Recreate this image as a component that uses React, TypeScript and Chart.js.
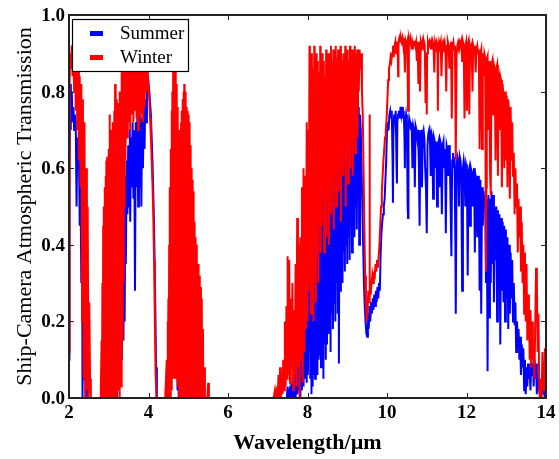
import React, { useEffect, useRef } from "react";
import { Chart, registerables } from "chart.js";
Chart.register(...registerables);

type P = [number, number];

const xTicks = [2, 4, 6, 8, 10, 12, 14];
const yTicks = [0, 0.2, 0.4, 0.6, 0.8, 1.0];
const seriesNames = ["Summer", "Winter"];
const seriesColors = ["#0000ff", "#ff0000"];
const xTitle = "Wavelength/\u00b5m";
const yTitle = "Ship-Camera Atmospheric Transmission";

// ---- Winter (wavelength µm, transmission) ----
const winterBand1: P[] = [
  [2.00,0.12],[2.01,0.5],[2.02,0.82],[2.03,0.9],[2.05,0.86],[2.07,0.92],[2.09,0.84],[2.11,0.9],[2.13,0.8],[2.15,0.9],
  [2.17,0.75],[2.19,0.88],[2.21,0.7],[2.23,0.86],[2.25,0.62],[2.27,0.84],[2.29,0.55],[2.31,0.82],[2.33,0.2],[2.35,0.78],
  [2.37,0.05],[2.39,0.72],[2.41,0.0],[2.43,0.6],[2.45,0.02],[2.47,0.5],[2.49,0.0],[2.51,0.25],[2.53,0.05],[2.55,0.0],[2.78,0.0],
];
const winterBand2: P[] = [
  [2.80,0.02],[2.82,0.15],[2.83,0.0],[2.84,0.3],[2.85,0.02],[2.86,0.45],[2.87,0.0],[2.88,0.5],[2.89,0.05],[2.90,0.55],
  [2.91,0.0],[2.92,0.58],[2.93,0.03],[2.94,0.62],[2.95,0.0],[2.96,0.63],[2.97,0.02],[2.98,0.6],[2.99,0.0],[3.00,0.65],
  [3.01,0.04],[3.02,0.74],[3.03,0.0],[3.04,0.66],[3.05,0.02],[3.06,0.7],[3.07,0.0],[3.08,0.68],[3.09,0.03],[3.10,0.72],
  [3.11,0.0],[3.12,0.7],[3.13,0.02],[3.14,0.75],[3.15,0.0],[3.16,0.82],[3.17,0.05],[3.18,0.76],[3.19,0.0],[3.20,0.78],
  [3.21,0.04],[3.22,0.74],[3.23,0.02],[3.24,0.77],[3.25,0.06],[3.26,0.75],[3.27,0.0],[3.28,0.8],[3.29,0.08],[3.30,0.78],
  [3.31,0.03],[3.32,0.85],[3.33,0.1],[3.34,0.86],[3.35,0.15],[3.36,0.9],[3.37,0.3],[3.38,0.9],[3.39,0.5],[3.40,0.92],
  [3.42,0.62],[3.44,0.93],[3.46,0.68],[3.48,0.92],[3.50,0.72],[3.52,0.94],[3.54,0.7],[3.56,0.93],[3.58,0.74],[3.60,0.95],
  [3.62,0.72],[3.64,0.93],[3.66,0.75],[3.68,0.94],[3.70,0.73],[3.72,0.92],[3.74,0.7],[3.76,0.93],[3.78,0.72],[3.80,0.92],
  [3.82,0.74],[3.84,0.9],[3.86,0.72],[3.88,0.9],[3.90,0.76],[3.92,0.88],[3.94,0.8],[3.96,0.87],[3.98,0.85],[4.00,0.82],
  [4.02,0.78],[4.04,0.73],[4.06,0.68],[4.08,0.62],[4.10,0.56],[4.12,0.48],[4.14,0.36],[4.16,0.2],[4.18,0.06],[4.20,0.0],[4.42,0.0],
];
const winterBand3: P[] = [
  [4.44,0.0],[4.46,0.1],[4.47,0.0],[4.48,0.2],[4.49,0.02],[4.50,0.26],[4.51,0.0],[4.52,0.4],[4.53,0.05],[4.54,0.55],
  [4.55,0.0],[4.56,0.65],[4.57,0.08],[4.58,0.75],[4.59,0.02],[4.60,0.8],[4.61,0.1],[4.62,0.86],[4.63,0.05],[4.64,0.9],
  [4.65,0.15],[4.66,0.93],[4.67,0.1],[4.68,0.9],[4.69,0.05],[4.70,0.82],[4.71,0.1],[4.72,0.76],[4.73,0.03],[4.74,0.72],
  [4.75,0.08],[4.76,0.7],[4.77,0.0],[4.78,0.68],[4.79,0.06],[4.80,0.7],[4.81,0.0],[4.82,0.72],[4.83,0.04],[4.84,0.75],
  [4.85,0.0],[4.86,0.78],[4.87,0.05],[4.88,0.8],[4.89,0.0],[4.90,0.82],[4.91,0.03],[4.92,0.8],[4.93,0.0],[4.94,0.78],
  [4.95,0.02],[4.96,0.76],[4.97,0.0],[4.98,0.75],[4.99,0.03],[5.00,0.74],[5.01,0.0],[5.02,0.72],[5.03,0.02],[5.04,0.7],
  [5.05,0.0],[5.06,0.66],[5.07,0.01],[5.08,0.6],[5.09,0.0],[5.10,0.57],[5.11,0.02],[5.12,0.54],[5.13,0.0],[5.14,0.5],
  [5.15,0.0],[5.16,0.46],[5.17,0.01],[5.18,0.42],[5.19,0.0],[5.20,0.4],[5.21,0.0],[5.22,0.36],[5.23,0.0],[5.25,0.35],
  [5.26,0.0],[5.28,0.32],[5.29,0.0],[5.31,0.29],[5.32,0.0],[5.34,0.26],[5.35,0.0],[5.37,0.18],[5.38,0.0],[5.40,0.08],
  [5.42,0.0],[5.48,0.0],[5.50,0.04],[5.52,0.0],[7.15,0.0],
];
const winterBand4: P[] = [
  [7.18,0.02],[7.20,0.0],[7.24,0.03],[7.25,0.0],[7.27,0.06],[7.29,0.0],[7.31,0.08],[7.33,0.0],[7.35,0.05],[7.37,0.01],
  [7.39,0.1],[7.41,0.02],[7.43,0.2],[7.45,0.03],[7.47,0.24],[7.49,0.05],[7.50,0.37],[7.52,0.06],[7.54,0.36],[7.56,0.04],
  [7.58,0.26],[7.60,0.08],[7.62,0.3],[7.64,0.02],[7.66,0.23],[7.68,0.06],[7.70,0.35],[7.72,0.03],[7.74,0.47],[7.76,0.08],
  [7.78,0.4],[7.80,0.0],[7.82,0.42],[7.84,0.1],[7.86,0.55],[7.88,0.04],[7.90,0.6],[7.92,0.12],[7.94,0.58],[7.96,0.18],
  [7.98,0.72],[8.00,0.2],[8.02,0.7],[8.03,0.28],[8.05,0.92],[8.06,0.3],[8.08,0.82],[8.09,0.22],[8.11,0.9],[8.12,0.35],
  [8.14,0.86],[8.15,0.2],[8.17,0.92],[8.18,0.4],[8.20,0.84],[8.21,0.25],[8.23,0.9],[8.24,0.45],[8.26,0.88],[8.27,0.3],
  [8.29,0.85],[8.30,0.5],[8.32,0.92],[8.33,0.38],[8.35,0.86],[8.36,0.45],[8.38,0.9],[8.39,0.6],[8.41,0.88],[8.42,0.38],
  [8.44,0.84],[8.45,0.55],[8.47,0.91],[8.48,0.42],[8.50,0.87],[8.51,0.65],[8.53,0.9],[8.54,0.4],[8.56,0.85],[8.57,0.58],
  [8.59,0.92],[8.60,0.48],[8.62,0.88],[8.63,0.68],[8.65,0.91],[8.66,0.44],[8.68,0.86],[8.69,0.62],[8.71,0.92],[8.72,0.5],
  [8.74,0.89],[8.75,0.72],[8.77,0.91],[8.78,0.54],[8.80,0.86],[8.81,0.66],[8.83,0.92],[8.84,0.46],[8.86,0.9],[8.87,0.72],
  [8.89,0.88],[8.90,0.58],[8.92,0.9],[8.93,0.68],[8.95,0.92],[8.96,0.5],[8.98,0.89],[8.99,0.75],[9.01,0.91],[9.02,0.56],
  [9.04,0.88],[9.05,0.7],[9.07,0.92],[9.08,0.6],[9.10,0.9],[9.11,0.76],[9.13,0.91],[9.14,0.58],[9.16,0.88],[9.17,0.72],
  [9.19,0.92],[9.20,0.64],[9.22,0.9],[9.23,0.78],[9.25,0.91],[9.26,0.68],[9.28,0.9],[9.29,0.8],[9.31,0.91],[9.33,0.86],
  [9.35,0.9],[9.37,0.8],[9.39,0.74],[9.41,0.6],[9.43,0.45],[9.45,0.32],[9.47,0.24],[9.49,0.2],[9.51,0.22],[9.53,0.28],
  [9.55,0.25],[9.56,0.74],[9.57,0.3],[9.59,0.27],[9.61,0.3],[9.63,0.32],[9.65,0.3],[9.67,0.33],[9.69,0.31],[9.71,0.35],
  [9.73,0.33],[9.75,0.36],[9.77,0.34],[9.79,0.37],[9.81,0.4],[9.83,0.45],[9.85,0.5],[9.87,0.54],[9.89,0.58],[9.91,0.62],
  [9.93,0.65],[9.95,0.68],[9.97,0.7],[9.99,0.73],
];
const winterBand5: P[] = [
  [10.01,0.78],[10.03,0.83],[10.05,0.86],[10.07,0.87],[10.09,0.89],[10.11,0.88],[10.13,0.9],[10.15,0.92],[10.17,0.89],[10.19,0.92],
  [10.21,0.93],[10.23,0.9],[10.25,0.93],[10.27,0.91],[10.28,0.84],[10.29,0.93],[10.31,0.94],[10.33,0.93],[10.35,0.94],[10.37,0.93],
  [10.39,0.94],[10.41,0.92],[10.43,0.94],[10.45,0.85],[10.47,0.93],[10.49,0.92],[10.51,0.93],[10.53,0.75],[10.55,0.94],[10.57,0.93],
  [10.59,0.94],[10.61,0.92],[10.63,0.93],[10.65,0.91],[10.67,0.93],[10.69,0.93],[10.71,0.92],[10.73,0.93],[10.75,0.88],[10.77,0.93],
  [10.79,0.82],[10.81,0.93],[10.83,0.8],[10.85,0.93],[10.87,0.92],[10.89,0.93],[10.91,0.91],[10.93,0.93],[10.95,0.92],[10.97,0.77],
  [10.99,0.9],[11.00,0.74],[11.01,0.9],[11.03,0.93],[11.05,0.92],[11.07,0.93],[11.09,0.92],[11.11,0.93],[11.13,0.91],[11.15,0.93],
  [11.17,0.92],[11.19,0.85],[11.21,0.93],[11.23,0.92],[11.25,0.93],[11.27,0.92],[11.28,0.75],[11.29,0.91],[11.31,0.93],[11.33,0.92],
  [11.35,0.93],[11.37,0.84],[11.39,0.92],[11.41,0.93],[11.43,0.92],[11.45,0.93],[11.47,0.91],[11.49,0.8],[11.51,0.92],[11.53,0.93],
  [11.55,0.92],[11.57,0.86],[11.59,0.92],[11.61,0.93],[11.63,0.73],[11.65,0.92],[11.67,0.93],[11.69,0.91],[11.71,0.92],[11.73,0.62],
  [11.75,0.9],[11.77,0.92],[11.79,0.93],[11.81,0.92],[11.83,0.93],[11.85,0.92],[11.87,0.93],[11.89,0.88],[11.91,0.93],[11.93,0.92],
  [11.95,0.73],[11.97,0.92],[11.99,0.93],[12.01,0.75],[12.03,0.92],[12.05,0.93],[12.07,0.74],[12.09,0.92],[12.11,0.91],[12.13,0.92],
  [12.15,0.8],[12.17,0.92],[12.19,0.91],[12.21,0.92],[12.23,0.85],[12.25,0.91],[12.27,0.92],[12.29,0.9],[12.31,0.91],[12.33,0.65],
  [12.35,0.9],[12.37,0.91],[12.39,0.65],[12.41,0.9],[12.43,0.84],[12.45,0.9],[12.47,0.89],[12.49,0.33],[12.50,0.55],[12.51,0.88],
  [12.53,0.89],[12.55,0.7],[12.57,0.88],[12.59,0.6],[12.61,0.53],[12.63,0.87],[12.65,0.88],[12.67,0.74],[12.69,0.87],[12.71,0.86],
  [12.73,0.62],[12.75,0.86],[12.77,0.87],[12.79,0.58],[12.81,0.85],[12.83,0.7],[12.85,0.84],[12.87,0.83],[12.89,0.55],[12.91,0.82],
  [12.93,0.78],[12.95,0.6],[12.97,0.8],[12.99,0.62],[13.01,0.79],[13.03,0.55],[13.05,0.78],[13.07,0.75],[13.09,0.52],[13.11,0.76],
  [13.13,0.62],[13.15,0.72],[13.17,0.58],[13.19,0.64],[13.21,0.48],[13.23,0.6],[13.25,0.5],[13.27,0.56],[13.29,0.38],[13.31,0.52],
  [13.33,0.42],[13.35,0.5],[13.37,0.33],[13.39,0.46],[13.41,0.3],[13.43,0.4],[13.45,0.22],[13.47,0.38],[13.49,0.2],[13.51,0.35],
  [13.53,0.15],[13.55,0.27],[13.57,0.24],[13.59,0.1],[13.61,0.23],[13.63,0.08],[13.65,0.2],[13.67,0.1],[13.69,0.12],[13.71,0.05],
  [13.73,0.2],[13.75,0.34],[13.77,0.3],[13.79,0.12],[13.81,0.22],[13.83,0.02],[13.85,0.0],[13.87,0.05],[13.89,0.0],[13.91,0.12],
  [13.93,0.06],[13.95,0.02],[13.97,0.13],[13.99,0.03],[14.00,0.05],
];

// ---- Summer (wavelength µm, transmission) ----
const summerBand1: P[] = [
  [2.00,0.1],[2.005,0.4],[2.01,0.2],[2.02,0.6],[2.03,0.78],[2.04,0.7],[2.05,0.82],[2.06,0.74],[2.07,0.8],[2.09,0.72],
  [2.11,0.76],[2.13,0.7],[2.15,0.74],[2.17,0.72],[2.19,0.5],[2.21,0.68],[2.23,0.6],[2.25,0.64],[2.27,0.45],[2.29,0.55],
  [2.31,0.3],[2.33,0.45],[2.34,0.0],[2.36,0.25],[2.38,0.05],[2.40,0.15],[2.42,0.0],[2.44,0.05],[2.46,0.0],[2.86,0.0],
];
const summerBand2: P[] = [
  [2.88,0.03],[2.89,0.0],[2.92,0.05],[2.93,0.0],[2.96,0.08],[2.97,0.0],[3.00,0.06],[3.01,0.0],[3.04,0.1],[3.05,0.01],
  [3.08,0.12],[3.09,0.0],[3.12,0.08],[3.13,0.0],[3.16,0.15],[3.17,0.02],[3.20,0.18],[3.21,0.0],[3.24,0.2],[3.25,0.03],
  [3.28,0.25],[3.29,0.05],[3.32,0.3],[3.33,0.1],[3.36,0.4],[3.37,0.15],[3.39,0.5],[3.40,0.2],[3.42,0.58],[3.43,0.35],
  [3.45,0.62],[3.47,0.48],[3.49,0.66],[3.51,0.5],[3.53,0.7],[3.54,0.46],[3.56,0.68],[3.58,0.55],[3.60,0.72],[3.62,0.52],
  [3.64,0.7],[3.66,0.28],[3.68,0.72],[3.70,0.55],[3.72,0.74],[3.74,0.5],[3.76,0.72],[3.78,0.55],[3.80,0.74],[3.82,0.5],
  [3.84,0.73],[3.86,0.6],[3.88,0.75],[3.90,0.65],[3.92,0.78],[3.94,0.72],[3.96,0.82],[3.98,0.84],[4.00,0.82],[4.02,0.8],
  [4.06,0.74],[4.10,0.62],[4.14,0.45],[4.17,0.25],[4.19,0.08],[4.21,0.0],[4.45,0.0],
];
const summerBand3: P[] = [
  [4.50,0.02],[4.52,0.0],[4.54,0.08],[4.55,0.02],[4.57,0.15],[4.58,0.05],[4.60,0.3],[4.61,0.1],[4.62,0.42],[4.63,0.2],
  [4.64,0.45],[4.65,0.25],[4.66,0.4],[4.67,0.12],[4.69,0.3],[4.70,0.05],[4.72,0.18],[4.73,0.02],[4.75,0.16],[4.76,0.0],
  [4.78,0.1],[4.79,0.0],[4.81,0.1],[4.82,0.0],[4.84,0.06],[4.86,0.0],[4.88,0.03],[4.90,0.0],[7.48,0.0],
];
const summerBand4: P[] = [
  [7.50,0.03],[7.51,0.0],[7.55,0.02],[7.57,0.0],[7.60,0.04],[7.61,0.0],[7.64,0.05],[7.65,0.0],[7.69,0.08],[7.70,0.0],
  [7.74,0.1],[7.75,0.01],[7.78,0.12],[7.79,0.02],[7.81,0.12],[7.82,0.0],[7.85,0.15],[7.86,0.02],[7.89,0.2],[7.90,0.03],
  [7.93,0.22],[7.94,0.05],[7.97,0.21],[7.98,0.04],[8.00,0.26],[8.01,0.06],[8.03,0.3],[8.04,0.14],[8.06,0.4],[8.07,0.05],
  [8.09,0.51],[8.10,0.01],[8.12,0.55],[8.13,0.03],[8.15,0.5],[8.16,0.06],[8.18,0.62],[8.19,0.05],[8.21,0.7],[8.22,0.08],
  [8.24,0.65],[8.25,0.06],[8.27,0.72],[8.28,0.1],[8.30,0.78],[8.31,0.11],[8.33,0.7],[8.34,0.08],[8.36,0.74],[8.37,0.12],
  [8.39,0.6],[8.40,0.05],[8.42,0.72],[8.43,0.14],[8.45,0.76],[8.46,0.1],[8.48,0.76],[8.49,0.14],[8.51,0.7],[8.52,0.17],
  [8.54,0.72],[8.55,0.2],[8.57,0.77],[8.58,0.12],[8.60,0.78],[8.61,0.22],[8.63,0.7],[8.64,0.18],[8.66,0.6],[8.67,0.25],
  [8.69,0.72],[8.70,0.2],[8.72,0.65],[8.73,0.3],[8.75,0.6],[8.76,0.22],[8.78,0.74],[8.79,0.09],[8.81,0.78],[8.82,0.28],
  [8.84,0.79],[8.85,0.33],[8.87,0.76],[8.88,0.3],[8.90,0.75],[8.91,0.38],[8.93,0.8],[8.94,0.33],[8.96,0.78],[8.97,0.4],
  [8.99,0.8],[9.00,0.35],[9.02,0.74],[9.03,0.42],[9.05,0.72],[9.06,0.36],[9.08,0.7],[9.09,0.45],[9.11,0.72],[9.12,0.38],
  [9.14,0.76],[9.15,0.48],[9.17,0.7],[9.18,0.42],[9.20,0.78],[9.21,0.5],[9.23,0.79],[9.24,0.44],[9.26,0.78],[9.27,0.55],
  [9.29,0.76],[9.30,0.4],[9.32,0.74],[9.34,0.7],[9.36,0.6],[9.38,0.5],[9.40,0.4],[9.42,0.3],[9.44,0.24],[9.46,0.2],
  [9.48,0.17],[9.50,0.16],[9.52,0.22],[9.54,0.18],[9.56,0.24],[9.58,0.2],[9.60,0.25],[9.62,0.22],[9.64,0.26],[9.66,0.23],
  [9.68,0.27],[9.70,0.24],[9.72,0.28],[9.74,0.25],[9.76,0.29],[9.78,0.26],[9.80,0.3],[9.82,0.28],[9.84,0.38],[9.86,0.43],
  [9.88,0.46],[9.90,0.48],[9.92,0.5],[9.94,0.52],[9.96,0.57],[9.98,0.62],
];
const summerBand5: P[] = [
  [10.00,0.7],[10.02,0.72],[10.04,0.7],[10.06,0.74],[10.08,0.75],[10.10,0.73],[10.12,0.75],[10.14,0.62],[10.15,0.51],[10.16,0.68],
  [10.18,0.74],[10.20,0.72],[10.22,0.75],[10.24,0.6],[10.25,0.56],[10.26,0.72],[10.28,0.74],[10.30,0.75],[10.32,0.73],[10.34,0.76],
  [10.36,0.74],[10.38,0.76],[10.40,0.73],[10.42,0.75],[10.44,0.68],[10.45,0.6],[10.46,0.72],[10.48,0.74],[10.50,0.72],[10.52,0.5],
  [10.53,0.47],[10.54,0.7],[10.56,0.73],[10.58,0.72],[10.60,0.7],[10.62,0.72],[10.64,0.6],[10.66,0.71],[10.68,0.7],[10.70,0.55],
  [10.72,0.71],[10.74,0.7],[10.76,0.68],[10.78,0.7],[10.80,0.62],[10.82,0.45],[10.84,0.68],[10.86,0.7],[10.88,0.55],[10.90,0.69],
  [10.92,0.7],[10.94,0.68],[10.96,0.6],[10.98,0.55],[11.00,0.43],[11.02,0.66],[11.04,0.69],[11.06,0.7],[11.08,0.68],[11.10,0.58],
  [11.12,0.69],[11.14,0.68],[11.16,0.52],[11.18,0.68],[11.20,0.67],[11.22,0.6],[11.24,0.67],[11.26,0.5],[11.28,0.66],[11.30,0.67],
  [11.32,0.55],[11.34,0.67],[11.36,0.66],[11.38,0.48],[11.40,0.66],[11.42,0.67],[11.44,0.6],[11.46,0.65],[11.48,0.43],[11.50,0.66],
  [11.52,0.65],[11.54,0.58],[11.56,0.66],[11.58,0.64],[11.60,0.5],[11.62,0.37],[11.64,0.62],[11.66,0.64],[11.68,0.6],[11.70,0.63],
  [11.72,0.4],[11.73,0.22],[11.75,0.6],[11.77,0.63],[11.79,0.62],[11.81,0.5],[11.83,0.63],[11.85,0.62],[11.87,0.58],[11.89,0.28],
  [11.91,0.6],[11.93,0.62],[11.95,0.6],[11.97,0.5],[11.99,0.61],[12.01,0.6],[12.03,0.32],[12.05,0.59],[12.07,0.6],[12.09,0.45],
  [12.11,0.6],[12.13,0.59],[12.15,0.5],[12.17,0.58],[12.19,0.6],[12.21,0.38],[12.23,0.58],[12.25,0.57],[12.27,0.42],[12.29,0.58],
  [12.31,0.56],[12.33,0.28],[12.35,0.57],[12.37,0.22],[12.39,0.55],[12.41,0.45],[12.43,0.54],[12.45,0.5],[12.47,0.53],[12.49,0.3],
  [12.51,0.52],[12.53,0.07],[12.55,0.53],[12.57,0.21],[12.59,0.52],[12.61,0.3],[12.63,0.54],[12.65,0.35],[12.67,0.53],[12.69,0.25],
  [12.71,0.5],[12.73,0.36],[12.75,0.5],[12.77,0.2],[12.79,0.49],[12.81,0.3],[12.83,0.48],[12.85,0.14],[12.87,0.47],[12.89,0.28],
  [12.91,0.46],[12.93,0.25],[12.95,0.45],[12.97,0.2],[12.99,0.44],[13.01,0.26],[13.03,0.42],[13.05,0.18],[13.07,0.4],[13.09,0.22],
  [13.11,0.38],[13.13,0.26],[13.15,0.36],[13.17,0.2],[13.19,0.3],[13.21,0.19],[13.23,0.25],[13.25,0.12],[13.27,0.2],[13.29,0.15],
  [13.31,0.18],[13.33,0.1],[13.35,0.16],[13.37,0.06],[13.39,0.14],[13.41,0.08],[13.43,0.13],[13.45,0.02],[13.47,0.1],[13.49,0.01],
  [13.51,0.08],[13.53,0.03],[13.55,0.09],[13.57,0.05],[13.59,0.07],[13.61,0.02],[13.63,0.1],[13.65,0.06],[13.67,0.09],[13.69,0.03],
  [13.71,0.1],[13.73,0.05],[13.75,0.09],[13.77,0.01],[13.79,0.06],[13.81,0.02],[13.83,0.05],[13.85,0.0],[13.87,0.03],[13.89,0.01],
  [13.91,0.04],[13.93,0.02],[13.95,0.03],[13.97,0.0],[13.99,0.05],[14.00,0.05],
];

const summerData = [...summerBand1, ...summerBand2, ...summerBand3, ...summerBand4, ...summerBand5];
const winterData = [...winterBand1, ...winterBand2, ...winterBand3, ...winterBand4, ...winterBand5];

const FONT = "'Liberation Serif', 'Times New Roman', serif";

const axesPlugin = {
  id: "axesPlugin",
  afterDatasetsDraw(chart: any) {
    const { ctx, chartArea: a, scales } = chart;
    const xs = scales.x;
    const ys = scales.y;
    ctx.save();

    // legend box
    const lx = a.left + 3;
    const ly = a.top + 4;
    const lw = 116;
    const lh = 52;
    ctx.fillStyle = "#ffffff";
    ctx.fillRect(lx, ly, lw, lh);
    ctx.strokeStyle = "#000000";
    ctx.lineWidth = 1.2;
    ctx.strokeRect(lx + 0.5, ly + 0.5, lw, lh);
    ctx.font = `19px ${FONT}`;
    ctx.textAlign = "left";
    ctx.textBaseline = "middle";
    seriesNames.forEach((name, i) => {
      const cy = ly + 14 + i * 24;
      ctx.fillStyle = seriesColors[i];
      ctx.fillRect(lx + 18, cy - 2, 13, 5);
      ctx.fillStyle = "#000000";
      ctx.fillText(name, lx + 48, cy + 1);
    });

    // frame
    ctx.strokeStyle = "#222222";
    ctx.lineWidth = 2;
    ctx.strokeRect(a.left, a.top, a.right - a.left, a.bottom - a.top);

    // ticks
    ctx.lineWidth = 1;
    ctx.strokeStyle = "#222222";
    ctx.fillStyle = "#000000";
    ctx.font = `bold 19px ${FONT}`;
    ctx.textAlign = "center";
    ctx.textBaseline = "middle";
    xTicks.forEach((v) => {
      const px = Math.round(xs.getPixelForValue(v)) + 0.5;
      ctx.beginPath();
      ctx.moveTo(px, a.bottom);
      ctx.lineTo(px, a.bottom - 5);
      ctx.moveTo(px, a.top);
      ctx.lineTo(px, a.top + 5);
      ctx.stroke();
      ctx.fillText(String(v), xs.getPixelForValue(v), a.bottom + 15);
    });
    ctx.textAlign = "right";
    yTicks.forEach((v) => {
      const py = Math.round(ys.getPixelForValue(v)) + 0.5;
      ctx.beginPath();
      ctx.moveTo(a.left, py);
      ctx.lineTo(a.left + 5, py);
      ctx.moveTo(a.right, py);
      ctx.lineTo(a.right - 5, py);
      ctx.stroke();
      ctx.fillText(v.toFixed(1), a.left - 4, ys.getPixelForValue(v) + 1);
    });

    // titles
    ctx.textAlign = "center";
    ctx.font = `bold 22px ${FONT}`;
    ctx.fillText(xTitle, (a.left + a.right) / 2, a.bottom + 45);
    ctx.save();
    ctx.translate(25, (a.top + a.bottom) / 2);
    ctx.rotate(-Math.PI / 2);
    ctx.font = `22px ${FONT}`;
    ctx.fillText(yTitle, 0, 0);
    ctx.restore();

    ctx.restore();
  },
};

export default function App() {
  const ref = useRef<HTMLCanvasElement | null>(null);
  useEffect(() => {
    if (!ref.current) return;
    const chart = new Chart(ref.current, {
      type: "line",
      data: {
        datasets: [
          {
            label: seriesNames[0],
            data: summerData.map(([x, y]) => ({ x, y })),
            borderColor: seriesColors[0],
            backgroundColor: seriesColors[0],
            borderWidth: 2,
            pointRadius: 0,
            tension: 0,
            order: 1,
          },
          {
            label: seriesNames[1],
            data: winterData.map(([x, y]) => ({ x, y })),
            borderColor: seriesColors[1],
            backgroundColor: seriesColors[1],
            borderWidth: 2,
            pointRadius: 0,
            tension: 0,
            order: 0,
          },
        ],
      },
      options: {
        animation: false,
        responsive: false,
        maintainAspectRatio: false,
        devicePixelRatio: 1,
        layout: { padding: { left: 69, right: 13, top: 15, bottom: 61 } },
        scales: {
          x: { type: "linear", min: 2, max: 14, display: false },
          y: { type: "linear", min: 0, max: 1, display: false },
        },
        plugins: {
          legend: { display: false },
          tooltip: { enabled: false },
        },
        events: [],
      },
      plugins: [axesPlugin],
    });
    return () => chart.destroy();
  }, []);
  return (
    <div style={{ position: "absolute", left: 0, top: 0, width: 559, height: 459, background: "#fff" }}>
      <canvas ref={ref} width={559} height={459} />
    </div>
  );
}
